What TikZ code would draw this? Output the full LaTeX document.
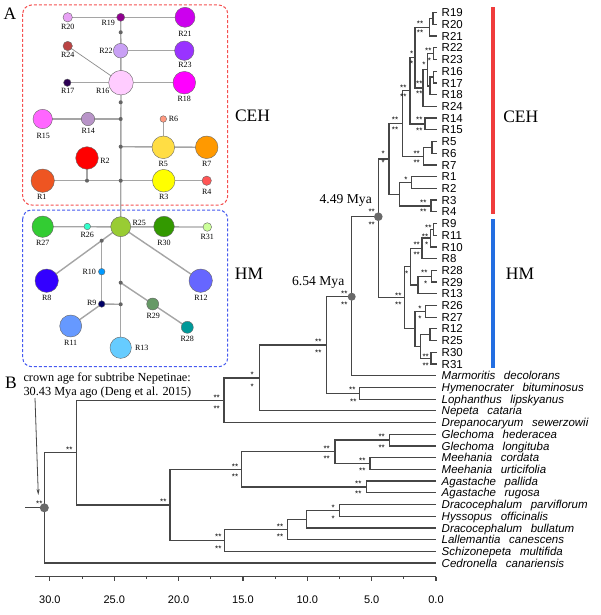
\documentclass[tikz,border=0pt]{standalone}
\usepackage{fontspec}
\setmainfont{Liberation Serif}
\newfontfamily\arialf{Liberation Sans}
\usetikzlibrary{arrows.meta}

\definecolor{treec}{RGB}{70,70,70}
\definecolor{netedge}{RGB}{165,165,165}
\definecolor{dotc}{RGB}{100,100,100}
\definecolor{agecol}{RGB}{105,105,105}
\definecolor{boxred}{RGB}{245,80,80}
\definecolor{boxblue}{RGB}{70,90,240}
\definecolor{barred}{RGB}{240,60,60}
\definecolor{barblue}{RGB}{35,110,225}

\definecolor{cA}{HTML}{E8A2F5}% R20
\definecolor{cB}{HTML}{900090}% R19
\definecolor{cC}{HTML}{CC00EE}% R21
\definecolor{cD}{HTML}{C9A0F5}% R22
\definecolor{cE}{HTML}{9933FF}% R23
\definecolor{cF}{HTML}{BB4444}% R24
\definecolor{cG}{HTML}{FFCCFF}% R16
\definecolor{cH}{HTML}{2D0055}% R17
\definecolor{cI}{HTML}{FF00FF}% R18
\definecolor{cJ}{HTML}{FF66FF}% R15
\definecolor{cK}{HTML}{B894C8}% R14
\definecolor{cL}{HTML}{FF9980}% R6
\definecolor{cM}{HTML}{FFDD44}% R5
\definecolor{cN}{HTML}{FF9900}% R7
\definecolor{cO}{HTML}{FF0000}% R2
\definecolor{cP}{HTML}{EE5522}% R1
\definecolor{cQ}{HTML}{FFFF00}% R3
\definecolor{cR}{HTML}{FF5555}% R4
\definecolor{cS}{HTML}{33CC33}% R27
\definecolor{cT}{HTML}{33FFCC}% R26
\definecolor{cU}{HTML}{99CC33}% R25
\definecolor{cV}{HTML}{339900}% R30
\definecolor{cW}{HTML}{CCFF99}% R31
\definecolor{cX}{HTML}{3300FF}% R8
\definecolor{cY}{HTML}{0099FF}% R10
\definecolor{cZ}{HTML}{6666FF}% R12
\definecolor{ca}{HTML}{000066}% R9
\definecolor{cb}{HTML}{669966}% R29
\definecolor{cc}{HTML}{009999}% R28
\definecolor{cd}{HTML}{6699FF}% R11
\definecolor{ce}{HTML}{66CCFF}% R13

\tikzset{
  treeline/.style={draw=treec, line width=1.25pt},
  agedot/.style={circle, fill=agecol, inner sep=0pt, minimum size=8.6pt},
  tipR/.style={font=\arialf\fontsize{11.5}{12}\selectfont, anchor=west, inner sep=0pt, text height=8.2pt, text depth=0pt},
  tipS/.style={font=\arialf\itshape\fontsize{11.5}{12}\selectfont, anchor=west, inner sep=0pt, text height=8.2pt, text depth=0pt},
  supp/.style={font=\arialf\fontsize{8}{8}\selectfont, anchor=base, inner sep=0pt, yshift=-4.6pt},
  hap/.style={circle, draw=black!60, line width=0.4pt, inner sep=0pt, minimum size=#1},
  hdot/.style={circle, fill=dotc, inner sep=0pt, minimum size=4pt},
  hlab/.style={font=\fontsize{8}{8}\selectfont, inner sep=0pt, text height=5.3pt, text depth=0pt},
  netline/.style={draw=netedge, line width=1.4pt},
  bigtxt/.style={font=\fontsize{17.5}{18}\selectfont, inner sep=0pt, text height=11.6pt, text depth=0pt},
  agetxt/.style={font=\fontsize{13.6}{14}\selectfont, inner sep=0pt, text height=9pt, text depth=0pt},
  notetxt/.style={font=\fontsize{12.3}{13}\selectfont, inner sep=0pt, anchor=west, text height=8.2pt, text depth=0pt},
  axlab/.style={font=\arialf\fontsize{11}{11}\selectfont, inner sep=0pt, text height=7.9pt, text depth=0pt},
}

\newcommand\clade[3]{\draw[treeline] (#2) -| (#1) |- (#3);}
\newcount\supc
\newcommand\supl[3]{\global\advance\supc by 1 \node[supp] (s\the\supc) at (#1,#2) {#3};}

\begin{document}
\begin{tikzpicture}[x=1pt,y=-1pt]
\fill[white] (0,0) rectangle (600,615);
\useasboundingbox (0,0) rectangle (600,615);

% ================= PANEL A : haplotype network =================
\draw[boxred, line width=1pt, dash pattern=on 3pt off 2pt, rounded corners=9pt] (22.7,5) rectangle (227.7,205);
\draw[boxblue, line width=1pt, dash pattern=on 3pt off 2pt, rounded corners=9pt] (22.7,210) rectangle (227.7,366.7);

% positions
\coordinate (p20) at (67.7,17.3);  \coordinate (p19) at (120.7,17.3); \coordinate (p21) at (185,17.3);
\coordinate (p22) at (120.7,50.7); \coordinate (p23) at (184.3,50.7); \coordinate (p24) at (67.7,46);
\coordinate (p16) at (121,82.7);   \coordinate (p17) at (67.3,82.7);  \coordinate (p18) at (184.3,82.7);
\coordinate (p15) at (42.7,119);   \coordinate (p14) at (88,119);     \coordinate (p6) at (163.3,119);
\coordinate (p5) at (163.3,147.3); \coordinate (p7) at (206.7,147.3); \coordinate (p2) at (87,158);
\coordinate (p1) at (42.7,180.7);  \coordinate (p3) at (163.7,180.7); \coordinate (p4) at (206.7,180.7);
\coordinate (q1) at (120.7,32.3);  \coordinate (q2) at (120.7,102.3); \coordinate (q3) at (120.7,119);
\coordinate (q4) at (120.7,146.7); \coordinate (q5) at (87,180.7);    \coordinate (q6) at (120.7,180.7);
\coordinate (p27) at (42.7,226.7); \coordinate (p26) at (87.3,226.5); \coordinate (p25) at (120.7,226.7);
\coordinate (p30) at (164,226.5);  \coordinate (p31) at (207.3,227);  \coordinate (p8) at (46.7,280.7);
\coordinate (p10) at (101.7,271.7);\coordinate (p12) at (200.7,280.7);\coordinate (p9) at (101.7,304);
\coordinate (p29) at (152.7,304);  \coordinate (p28) at (187.3,327.3);\coordinate (p11) at (70.7,326);
\coordinate (p13) at (120.7,347.7);
\coordinate (q7) at (101.7,240.7); \coordinate (q8) at (120.7,282.7); \coordinate (q9) at (120.7,304.3);

% edges (behind nodes)
\draw[netline] (p20) -- (p21);
\draw[netline] (p19) -- (p16);
\draw[netline] (p22) -- (p23);
\draw[draw=black!45, line width=0.7pt] (p24) -- (p16);
\draw[netline] (p17) -- (p18);
\draw[netline] (p16) -- (p25);
\draw[netline] (q3) -- (p15);
\draw[netline] (q4) -- (p7);
\draw[netline] (p5) -- (p6);
\draw[netline] (q6) -- (p1);
\draw[netline] (q5) -- (p2);
\draw[netline] (q6) -- (p4);
\draw[netline] (p27) -- (p31);
\draw[netline] (p25) -- (p8);
\draw[netline] (q7) -- (p9);
\draw[netline] (p9) -- (p11);
\draw[netline] (p9) -- (q9);
\draw[netline] (p25) -- (p13);
\draw[netline] (q8) -- (p28);
\draw[netline] (p25) -- (p12);

% haplotype circles
\node[hap=9.4pt,  fill=cA] (r20) at (p20) {};
\node[hap=8pt,    fill=cB] (r19) at (p19) {};
\node[hap=20pt,   fill=cC] (r21) at (p21) {};
\node[hap=14.6pt, fill=cD] (r22) at (p22) {};
\node[hap=19.4pt, fill=cE] (r23) at (p23) {};
\node[hap=9.4pt,  fill=cF] (r24) at (p24) {};
\node[hap=24.6pt, fill=cG] (r16) at (p16) {};
\node[hap=7.4pt,  fill=cH] (r17) at (p17) {};
\node[hap=22.6pt, fill=cI] (r18) at (p18) {};
\node[hap=19.4pt, fill=cJ] (r15) at (p15) {};
\node[hap=13.4pt, fill=cK] (r14) at (p14) {};
\node[hap=6.6pt,  fill=cL] (r6)  at (p6)  {};
\node[hap=22.6pt, fill=cM] (r5)  at (p5)  {};
\node[hap=22.6pt, fill=cN] (r7)  at (p7)  {};
\node[hap=22.6pt, fill=cO] (r2)  at (p2)  {};
\node[hap=23.4pt, fill=cP] (r1)  at (p1)  {};
\node[hap=22.6pt, fill=cQ] (r3)  at (p3)  {};
\node[hap=9.4pt,  fill=cR] (r4)  at (p4)  {};
\node[hap=21.4pt, fill=cS] (r27) at (p27) {};
\node[hap=6.6pt,  fill=cT] (r26) at (p26) {};
\node[hap=20pt,   fill=cU] (r25) at (p25) {};
\node[hap=20.6pt, fill=cV] (r30) at (p30) {};
\node[hap=8.6pt,  fill=cW] (r31) at (p31) {};
\node[hap=23.4pt, fill=cX] (r8)  at (p8)  {};
\node[hap=6.6pt,  fill=cY] (r10) at (p10) {};
\node[hap=23.4pt, fill=cZ] (r12) at (p12) {};
\node[hap=6.6pt,  fill=ca] (r9)  at (p9)  {};
\node[hap=12pt,   fill=cb] (r29) at (p29) {};
\node[hap=12pt,   fill=cc] (r28) at (p28) {};
\node[hap=22pt,   fill=cd] (r11) at (p11) {};
\node[hap=21.4pt, fill=ce] (r13) at (p13) {};
\foreach \q in {q1,q2,q3,q4,q5,q6,q7,q8,q9} { \node[hdot] (d\q) at (\q) {}; }

% haplotype labels
\node[hlab] (l20) at (67.7,26.7) {R20};
\node[hlab] (l19) at (108.3,23.3) {R19};
\node[hlab] (l21) at (185,34) {R21};
\node[hlab] (l22) at (106,51) {R22};
\node[hlab] (l23) at (185,65) {R23};
\node[hlab] (l24) at (67.7,55.3) {R24};
\node[hlab] (l16) at (102.7,91.3) {R16};
\node[hlab] (l17) at (67.7,91.3) {R17};
\node[hlab] (l18) at (184.3,99) {R18};
\node[hlab] (l15) at (43.3,135.7) {R15};
\node[hlab] (l14) at (88.3,130.7) {R14};
\node[hlab] (l6)  at (173.5,119) {R6};
\node[hlab] (l5)  at (163.3,163.7) {R5};
\node[hlab] (l7)  at (206.7,163.7) {R7};
\node[hlab] (l2)  at (105,161.3) {R2};
\node[hlab] (l1)  at (41.7,196.7) {R1};
\node[hlab] (l3)  at (163.7,196.7) {R3};
\node[hlab] (l4)  at (206.7,192.3) {R4};
\node[hlab] (l27) at (42.7,242.7) {R27};
\node[hlab] (l26) at (87.3,235) {R26};
\node[hlab] (l25) at (139.3,223.3) {R25};
\node[hlab] (l30) at (164,242.7) {R30};
\node[hlab] (l31) at (207.3,236.7) {R31};
\node[hlab] (l8)  at (46.7,298.3) {R8};
\node[hlab] (l10) at (89.3,271.7) {R10};
\node[hlab] (l12) at (201,298.3) {R12};
\node[hlab] (l9)  at (91.7,303.3) {R9};
\node[hlab] (l29) at (153.3,316) {R29};
\node[hlab] (l28) at (187.3,339) {R28};
\node[hlab] (l11) at (70.7,343.3) {R11};
\node[hlab] (l13) at (141.7,347.7) {R13};

\node[bigtxt] (netceh) at (252.5,116) {CEH};
\node[bigtxt] (nethm) at (249,273.3) {HM};
\node[bigtxt] (panA) at (10,13.3) {A};

% ================= PANEL B : dated tree =================
\foreach \i/\n in {0/R19,1/R20,2/R21,3/R22,4/R23,5/R16,6/R17,7/R18,8/R24,9/R14,10/R15,11/R5,12/R6,13/R7,14/R1,15/R2,16/R3,17/R4,18/R9,19/R11,20/R10,21/R8,22/R28,23/R29,24/R13,25/R26,26/R27,27/R12,28/R25,29/R30,30/R31} {
  \coordinate (t\i) at (437,{12.7+\i*11.71});
  \node[tipR] (tl\i) at (441.5,{12.7+\i*11.71}) {\n};
}
\foreach \i/\g/\s in {31/Marmoritis/decolorans,32/Hymenocrater/bituminosus,33/Lophanthus/lipskyanus,34/Nepeta/cataria,35/Drepanocaryum/sewerzowii,36/Glechoma/hederacea,37/Glechoma/longituba,38/Meehania/cordata,39/Meehania/urticifolia,40/Agastache/pallida,41/Agastache/rugosa,42/Dracocephalum/parviflorum,43/Hyssopus/officinalis,44/Dracocephalum/bullatum,45/Lallemantia/canescens,46/Schizonepeta/multifida} {
  \coordinate (t\i) at (436,{12.7+\i*11.71});
  \node[tipS] (tl\i) at (441.5,{12.7+\i*11.71}) {\g\hspace{0.75em}\s};
}
\coordinate (t47) at (436,563.07);
\node[tipS] (tl47) at (441.5,563.07) {Cedronella\hspace{0.75em}canariensis};

% CEH clade
\coordinate (n1920) at (433,18.56);   \clade{n1920}{t0}{t1}
\coordinate (n1921) at (429.3,27.34); \clade{n1921}{n1920}{t2}
\coordinate (n2223) at (433.5,53.69); \clade{n2223}{t3}{t4}
\coordinate (n1617) at (433.5,77.1);  \clade{n1617}{t5}{t6}
\coordinate (n1618) at (430,85.9);    \clade{n1618}{n1617}{t7}
\coordinate (nL) at (427.5,69.8);     \clade{nL}{n2223}{n1618}
\coordinate (nK) at (423,88.1);       \clade{nK}{nL}{t8}
\coordinate (nJ) at (415,57.7);       \clade{nJ}{n1921}{nK}
\coordinate (n1415) at (425,123.95);  \clade{n1415}{t9}{t10}
\coordinate (nI) at (410,90.8);       \clade{nI}{nJ}{n1415}
\coordinate (n56) at (432,147.37);    \clade{n56}{t11}{t12}
\coordinate (n57) at (423.3,156.15);  \clade{n57}{n56}{t13}
\coordinate (nH) at (402.7,123.5);    \clade{nH}{nI}{n57}
\coordinate (n12) at (411.5,182.5);   \clade{n12}{t14}{t15}
\coordinate (n34) at (431,205.9);     \clade{n34}{t16}{t17}
\coordinate (nM) at (399.3,194.2);    \clade{nM}{n12}{n34}
\coordinate (nG) at (389,158.9);      \clade{nG}{nH}{nM}
% HM clade
\coordinate (n911) at (433.5,229.33); \clade{n911}{t18}{t19}
\coordinate (n910) at (430.5,238.1);  \clade{n910}{n911}{t20}
\coordinate (n98) at (422,248.4);     \clade{n98}{n910}{t21}
\coordinate (n2829) at (431.5,276.18);\clade{n2829}{t22}{t23}
\coordinate (n2813) at (418,284.96);  \clade{n2813}{n2829}{t24}
\coordinate (nO) at (410.5,266.7);    \clade{nO}{n98}{n2813}
\coordinate (n2627) at (425.5,311.3); \clade{n2627}{t25}{t26}
\coordinate (n1225) at (430,334.7);   \clade{n1225}{t27}{t28}
\coordinate (n3031) at (431,358.15);  \clade{n3031}{t29}{t30}
\coordinate (nQ) at (420.7,346.4);    \clade{nQ}{n1225}{n3031}
\coordinate (nP) at (415,328.85);     \clade{nP}{n2627}{nQ}
\coordinate (nN) at (404.5,297.8);    \clade{nN}{nO}{nP}
% backbone
\coordinate (nF) at (378.3,216.7);    \clade{nF}{nG}{nN}
\coordinate (nE) at (351.7,296.7);    \clade{nE}{nF}{t31}
\coordinate (nHL) at (359.5,393.3);   \clade{nHL}{t32}{t33}
\coordinate (nD) at (326.7,345);      \clade{nD}{nE}{nHL}
\coordinate (nC) at (259.3,377.9);    \clade{nC}{nD}{t34}
\coordinate (nB) at (224,400.2);      \clade{nB}{nC}{t35}
\coordinate (nGl) at (389.3,440.1);   \clade{nGl}{t36}{t37}
\coordinate (nMe) at (370,463.5);     \clade{nMe}{t38}{t39}
\coordinate (nU) at (335,451.8);      \clade{nU}{nGl}{nMe}
\coordinate (nAg) at (366.7,486.95);  \clade{nAg}{t40}{t41}
\coordinate (nS) at (241.7,469.4);    \clade{nS}{nU}{nAg}
\coordinate (nDH) at (339.3,510.4);   \clade{nDH}{t42}{t43}
\coordinate (nW) at (306.7,519.2);    \clade{nW}{nDH}{t44}
\coordinate (nV) at (287.3,529.4);    \clade{nV}{nW}{t45}
\coordinate (nT) at (224.3,540.4);    \clade{nT}{nV}{t46}
\coordinate (nR) at (170,504.9);      \clade{nR}{nS}{nT}
\coordinate (nA) at (76.7,452.5);     \clade{nA}{nB}{nR}
\coordinate (nRoot) at (44.3,507.8);  \clade{nRoot}{nA}{t47}
\coordinate (stem) at (25,507.8);
\draw[treeline] (stem) -- (nRoot);

% age circles
\node[agedot] (aF) at (nF) {};
\node[agedot, minimum size=8pt] (aE) at (nE) {};
\node[agedot, minimum size=9pt] (aRoot) at (nRoot) {};

% support values
\supl{420}{21.7}{**}   \supl{420}{31}{**}
\supl{428.3}{49}{**}   \supl{429.3}{58.5}{*}
\supl{411.7}{51.7}{*}  \supl{411.7}{61.5}{*}
\supl{424}{63.3}{*}
\supl{419.3}{82.3}{**} \supl{419.3}{91.5}{**}
\supl{403.3}{85.5}{**} \supl{403.3}{95}{**}
\supl{419.3}{118}{**}  \supl{419.3}{128.5}{**}
\supl{395}{118}{**}    \supl{395}{128}{**}
\supl{416.7}{151.5}{**}\supl{416.7}{161}{**}
\supl{383.3}{151.7}{*} \supl{383.3}{161}{*}
\supl{406}{178.3}{*}
\supl{423.3}{201}{**}  \supl{423.3}{210}{**}
\supl{371.7}{210}{**}  \supl{371.7}{222.7}{**}
\supl{428.3}{226}{**}
\supl{425}{235}{**}    \supl{426.7}{242.7}{*}
\supl{416.7}{243.3}{**}\supl{416.7}{252.7}{**}
\supl{406.7}{271.5}{*}
\supl{424.3}{271}{**}  \supl{425.7}{281.7}{*}
\supl{398.3}{294}{**}  \supl{398.3}{303}{**}
\supl{420}{307.3}{*}   \supl{420}{316.7}{*}
\supl{425.7}{355}{**}  \supl{425.7}{363.5}{**}
\supl{344.3}{291.7}{**}\supl{344.3}{302.7}{**}
\supl{318.3}{340}{**}  \supl{318.3}{350.7}{**}
\supl{352.3}{388.3}{**}\supl{353.3}{399.5}{**}
\supl{252.3}{373.3}{*} \supl{252.3}{385}{*}
\supl{216.7}{395.7}{**}\supl{216.7}{406.7}{**}
\supl{69.3}{447.7}{**}
\supl{39.3}{501.5}{**}
\supl{163.3}{500}{**}
\supl{235}{465}{**}    \supl{235}{474.5}{**}
\supl{326.7}{446.7}{**}\supl{326.7}{456.5}{**}
\supl{381.7}{435}{**}  \supl{381.7}{445.5}{**}
\supl{362.3}{459.3}{**}\supl{362.3}{468.5}{**}
\supl{358.3}{482}{**}  \supl{358.3}{492}{**}
\supl{333.3}{506}{*}   \supl{333.3}{516.7}{*}
\supl{280}{525}{**}    \supl{280}{535}{**}
\supl{218.3}{535}{**}  \supl{218.3}{546.7}{**}

% age labels
\node[agetxt, anchor=east] (age449) at (372,199.3) {4.49 Mya};
\node[agetxt, anchor=east] (age654) at (344.5,280.7) {6.54 Mya};

% clade bars
\coordinate (rb1) at (493.3,7.3);  \coordinate (rb2) at (493.3,214);
\coordinate (bb1) at (493.3,219);  \coordinate (bb2) at (493.3,368.3);
\draw[barred, line width=4pt] (rb1) -- (rb2);
\draw[barblue, line width=4pt] (bb1) -- (bb2);
\node[bigtxt] (treeceh) at (520.8,116.7) {CEH};
\node[bigtxt] (treehm) at (520,273.3) {HM};

% note and arrow
\node[bigtxt] (panB) at (11,383) {B};
\node[notetxt] (note1) at (23.3,377.7) {crown age for subtribe Nepetinae:};
\node[notetxt] (note2) at (23.3,391) {30.43 Mya ago (Deng et al. 2015)};
\coordinate (arrS) at (35,398);
\coordinate (arrE) at (38.3,495);
\draw[treec, line width=0.8pt, -{Stealth[length=6pt,width=3pt]}] (arrS) -- (arrE);

% time axis
\draw[treec, line width=1.1pt] (35,576.7) -- (436,576.7);
\foreach \t in {0,5,...,30} {
  \draw[treec, line width=1.1pt] ({436-12.87*\t},576.7) -- ({436-12.87*\t},581);
}
\foreach \t in {2.5,7.5,12.5,17.5,22.5,27.5} {
  \draw[treec, line width=1.1pt] ({436-12.87*\t},576.7) -- ({436-12.87*\t},579);
}
\foreach \t/\s in {30/30.0,25/25.0,20/20.0,15/15.0,10/10.0,5/5.0,0/0.0} {
  \node[axlab] (ax\t) at ({436-12.87*\t},599.3) {\s};
}
\end{tikzpicture}
\end{document}
